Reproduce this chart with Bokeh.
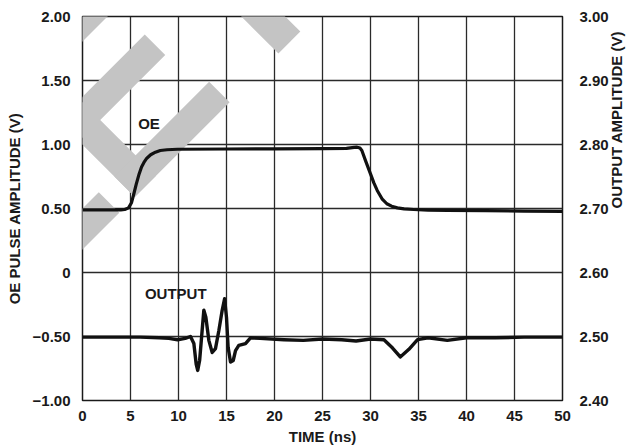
import math
from bokeh.plotting import figure
from bokeh.models import Range1d, LinearAxis, FixedTicker, Label, PolyAnnotation
from bokeh.embed import file_html
from bokeh.resources import INLINE

# ---------------- data ----------------
time_oe = [0, 2, 4, 4.4, 4.8, 5.1, 5.35, 5.6, 5.9, 6.15, 6.4, 6.7, 7.1, 7.6, 8.1,
           8.8, 9.9, 15, 20, 25, 27.5, 28.3, 28.6, 28.9, 29.1, 29.5, 30.0, 30.35,
           30.7, 31.2, 31.7, 32.2, 32.8, 33.5, 34.5, 36, 38, 42, 46, 50]
oe_volts = [0.49, 0.49, 0.49, 0.492, 0.505, 0.545, 0.615, 0.69, 0.77, 0.825, 0.86,
            0.893, 0.92, 0.94, 0.953, 0.959, 0.963, 0.965, 0.966, 0.967, 0.97,
            0.977, 0.979, 0.972, 0.953, 0.87, 0.771, 0.70, 0.641, 0.576, 0.537,
            0.518, 0.505, 0.497, 0.492, 0.488, 0.485, 0.483, 0.48, 0.478]

time_out = [0, 3, 6, 8, 9, 9.9, 10.7, 11.25, 11.6, 11.84, 12.0, 12.2, 12.46, 12.64,
            12.85, 13.16, 13.51, 13.85, 14.2, 14.55, 14.8, 15.0, 15.17, 15.42, 15.7,
            15.94, 16.28, 16.98, 17.5, 18.5, 21, 23, 25, 27, 28.5, 30, 31.4, 32.3,
            33.1, 34.0, 34.9, 36, 38, 40, 43, 46, 50]
out_volts = [2.499, 2.499, 2.499, 2.498, 2.497, 2.495, 2.497, 2.5, 2.489, 2.457,
             2.447, 2.4625, 2.509, 2.541, 2.53, 2.494, 2.475, 2.481, 2.509, 2.541,
             2.559, 2.53, 2.483, 2.46, 2.4625, 2.478, 2.486, 2.489, 2.498, 2.497,
             2.495, 2.494, 2.496, 2.495, 2.493, 2.496, 2.495, 2.482, 2.468, 2.48,
             2.495, 2.498, 2.494, 2.498, 2.498, 2.499, 2.499]

x_ticks = [0, 5, 10, 15, 20, 25, 30, 35, 40, 45, 50]
left_ticks = [-1.0, -0.5, 0.0, 0.5, 1.0, 1.5, 2.0]
left_tick_labels = ["\u22121.00", "\u22120.50", "0", "0.50", "1.00", "1.50", "2.00"]
right_ticks = [2.4, 2.5, 2.6, 2.7, 2.8, 2.9, 3.0]
right_tick_labels = ["2.40", "2.50", "2.60", "2.70", "2.80", "2.90", "3.00"]

# watermark strokes (rotated letters), each (s0, s1, a0, a1) in a 45-degree frame
watermark_strokes = [
    (58, 234, -44, -14), (58, 87, -44, 90), (126, 155, -44, 78), (205, 234, -44, 90),
    (58, 234, 159, 190), (58, 87, 110, 240),
    (58, 234, -175, -146), (205, 234, -175, -66),
]

FONT = "Liberation Sans"
W, H = 643, 448
FRAME_L, FRAME_B = 82, 400   # page position of the frame's left / bottom edge

p = figure(width=W, height=H, x_range=Range1d(0, 50), y_range=Range1d(-1, 2),
           output_backend="svg", toolbar_location=None,
           min_border_left=82, min_border_right=81, min_border_top=16,
           min_border_bottom=48, y_axis_location=None, x_axis_location=None)
p.extra_y_ranges = {"right": Range1d(2.4, 3.0)}
p.background_fill_color = "white"
p.border_fill_color = "white"
p.outline_line_color = "#1a1a1a"
p.outline_line_width = 1.5

# watermark (screen units relative to the frame, y upwards)
r2 = math.sqrt(2)
for (s0, s1, a0, a1) in watermark_strokes:
    pts = [(s0, a0), (s0, a1), (s1, a1), (s1, a0)]
    xs = [(s + a) / r2 - FRAME_L for s, a in pts]
    ys = [FRAME_B - (s - a) / r2 for s, a in pts]
    p.add_layout(PolyAnnotation(xs=xs, ys=ys, xs_units="screen", ys_units="screen",
                                fill_color="#c4c4c4", fill_alpha=1.0,
                                line_color=None, level="underlay"))

def style_axis(ax):
    ax.axis_line_color = None
    ax.major_tick_line_color = None
    ax.minor_tick_line_color = None
    ax.major_label_text_font = FONT
    ax.major_label_text_font_style = "bold"
    ax.major_label_text_font_size = "15px"
    ax.major_label_text_color = "#1a1a1a"
    ax.axis_label_text_font = FONT
    ax.axis_label_text_font_style = "bold"
    ax.axis_label_text_font_size = "15px"
    ax.axis_label_text_color = "#1a1a1a"

xaxis = LinearAxis(ticker=FixedTicker(ticks=x_ticks), axis_label="TIME (ns)")
style_axis(xaxis)
xaxis.major_label_standoff = 4
xaxis.axis_label_standoff = 4
p.add_layout(xaxis, "below")

laxis = LinearAxis(ticker=FixedTicker(ticks=left_ticks), axis_label="OE PULSE AMPLITUDE (V)")
laxis.major_label_overrides = {t: l for t, l in zip(left_ticks, left_tick_labels)}
style_axis(laxis)
laxis.major_label_standoff = 6
laxis.axis_label_standoff = 7
p.add_layout(laxis, "left")

raxis = LinearAxis(y_range_name="right", ticker=FixedTicker(ticks=right_ticks),
                   axis_label="OUTPUT AMPLITUDE (V)")
raxis.major_label_overrides = {t: l for t, l in zip(right_ticks, right_tick_labels)}
style_axis(raxis)
raxis.major_label_standoff = 11
raxis.axis_label_standoff = 5
if "axis_label_orientation" in raxis.properties():
    raxis.axis_label_orientation = math.pi / 2
p.add_layout(raxis, "right")

p.xgrid.ticker = FixedTicker(ticks=x_ticks)
p.ygrid.ticker = FixedTicker(ticks=left_ticks)
for g in (p.xgrid, p.ygrid):
    g.grid_line_color = "#2a2a2a"
    g.grid_line_width = 1.3

p.line(time_oe, oe_volts, line_color="#111111", line_width=3.2, line_join="round")
p.line(time_out, out_volts, y_range_name="right", line_color="#111111",
       line_width=3.4, line_join="round")

for txt, x, y in [("OE", 5.8, 1.10), ("OUTPUT", 6.5, -0.23)]:
    p.add_layout(Label(x=x, y=y, text=txt, text_font=FONT, text_font_style="bold",
                       text_font_size="15px", text_color="#1a1a1a"))

open("out.html", "w").write(file_html(p, INLINE))
